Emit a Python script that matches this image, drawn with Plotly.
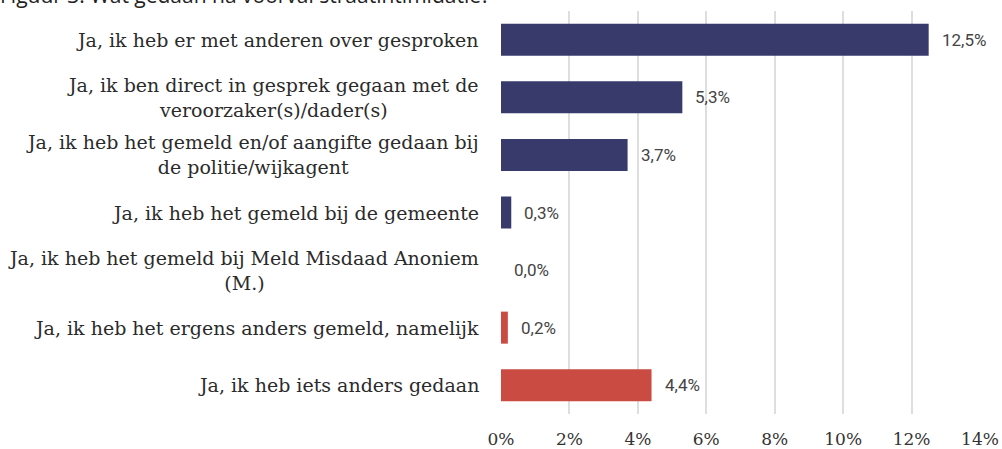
import plotly.graph_objects as go

categories = [
    "Ja, ik heb er met anderen over gesproken",
    "Ja, ik ben direct in gesprek gegaan met de<br>veroorzaker(s)/dader(s)",
    "Ja, ik heb het gemeld en/of aangifte gedaan bij<br>de politie/wijkagent",
    "Ja, ik heb het gemeld bij de gemeente",
    "Ja, ik heb het gemeld bij Meld Misdaad Anoniem<br>(M.)",
    "Ja, ik heb het ergens anders gemeld, namelijk",
    "Ja, ik heb iets anders gedaan",
]
values = [12.5, 5.3, 3.7, 0.3, 0.0, 0.2, 4.4]
value_labels = ["12,5%", "5,3%", "3,7%", "0,3%", "0,0%", "0,2%", "4,4%"]
bar_colors = ["#373a6b", "#373a6b", "#373a6b", "#373a6b", "#373a6b", "#c94b42", "#c94b42"]
tick_vals = [0, 2, 4, 6, 8, 10, 12, 14]
tick_text = ["0%", "2%", "4%", "6%", "8%", "10%", "12%", "14%"]
title_text = "Figuur 3: Wat gedaan na voorval straatintimidatie?"

fig = go.Figure()
fig.add_trace(go.Bar(
    y=categories, x=values, orientation="h",
    marker=dict(color=bar_colors, line=dict(width=0)),
    width=0.556, hoverinfo="skip",
))

annotations = []
for cat, v, lab in zip(categories, values, value_labels):
    annotations.append(dict(
        x=v, y=cat, xref="x", yref="y", text=lab, showarrow=False,
        xanchor="left", yanchor="middle", xshift=11,
        font=dict(family="Roboto", size=17, color="#444444"),
    ))
    annotations.append(dict(
        x=0, y=cat, xref="paper", yref="y", text=cat, showarrow=False,
        xanchor="right", yanchor="middle", xshift=-20, align="center",
        font=dict(family="DejaVu Serif", size=19, color="#2b2b2b"),
    ))
annotations.append(dict(
    x=0, y=1, xref="paper", yref="paper", text=title_text, showarrow=False,
    xanchor="left", yanchor="middle", xshift=-503, yshift=16,
    font=dict(family="Open Sans", size=21, color="#222222"),
))

fig.update_layout(
    width=1002, height=449,
    margin=dict(l=501, r=22, t=11, b=35, autoexpand=False),
    paper_bgcolor="white", plot_bgcolor="white",
    showlegend=False,
    annotations=annotations,
)
fig.update_xaxes(
    range=[0, 14], tickvals=tick_vals, ticktext=tick_text,
    showgrid=True, gridcolor="#dedede", gridwidth=1.5,
    zeroline=False, showline=False, automargin=False,
    ticks="", ticklabelstandoff=13,
    tickfont=dict(family="DejaVu Serif", size=17, color="#333333"),
    fixedrange=True,
)
fig.update_yaxes(
    autorange="reversed", showticklabels=False, showgrid=False,
    zeroline=False, showline=False, fixedrange=True, automargin=False,
)

fig.write_html(
    "out.html",
    config={"displayModeBar": False},
    post_script="document.body.style.margin='0';document.body.style.overflow='hidden';",
)
